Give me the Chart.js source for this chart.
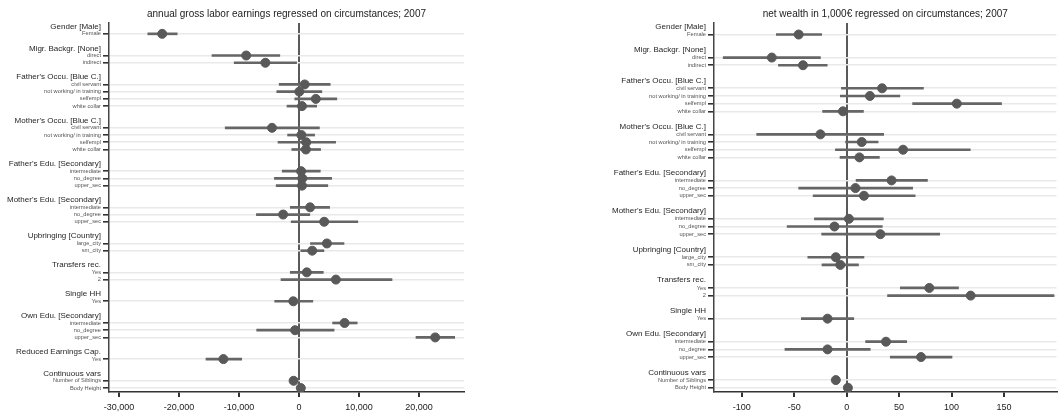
<!DOCTYPE html>
<html>
<head>
<meta charset="utf-8">
<script src="https://cdn.jsdelivr.net/npm/chart.js@4/dist/chart.umd.min.js"></script>
<style>
  html, body { margin: 0; padding: 0; background: #fff; overflow: hidden; }
  #wrap { position: relative; width: 1062px; height: 415px; }
  canvas { position: absolute; top: 0; }
</style>
</head>
<body>
<div id="wrap">
  <canvas id="earnChart" width="530" height="415" style="left:0"></canvas>
  <canvas id="wealthChart" width="532" height="415" style="left:530px"></canvas>
</div>
<script>
"use strict";

// ---- data ----
var occItems = ['civil servant', 'not working/ in training', 'selfempl', 'white collar'];
var eduItems = ['intermediate', 'no_degree', 'upper_sec'];

var earnGroups = ['Gender [Male]', 'Migr. Backgr. [None]', "Father's Occu. [Blue C.]", "Mother's Occu. [Blue C.]",
	"Father's Edu. [Secondary]", "Mother's Edu. [Secondary]", 'Upbringing [Country]', 'Transfers rec.',
	'Single HH', 'Own Edu. [Secondary]', 'Reduced Earnings Cap.', 'Continuous vars'];
var earnItems = [['Female'], ['direct', 'indirect'], occItems, occItems, eduItems, eduItems,
	['large_city', 'sm_city'], ['Yes', '2'], ['Yes'], eduItems, ['Yes'], ['Number of Siblings', 'Body Height']];
var earnCoef = [-22800, -8800, -5600, 950, 50, 2800, 500, -4500, 400, 1200, 1150, 350, 550, 500,
	1850, -2650, 4200, 4650, 2200, 1300, 6150, -950, 7600, -650, 22700, -12600, -900, 300];
var earnLo = [-25200, -14500, -10800, -3300, -3700, -700, -2000, -12300, -1900, -3500, -1200, -2800, -4100, -3800,
	-1450, -7100, -1300, 1900, 300, -1450, -3000, -4050, 5600, -7050, 19500, -15500, -1300, 100];
var earnHi = [-20300, -3200, -400, 5200, 3800, 6300, 2950, 3400, 2600, 6100, 3600, 3550, 5450, 4800,
	5100, 1800, 9800, 7500, 4150, 4050, 15500, 2300, 9700, 5850, 25950, -9550, -500, 500];
var earnTicks = [-30000, -20000, -10000, 0, 10000, 20000];

var wealthGroups = ['Gender [Male]', 'Migr. Backgr. [None]', "Father's Occu. [Blue C.]", "Mother's Occu. [Blue C.]",
	"Father's Edu. [Secondary]", "Mother's Edu. [Secondary]", 'Upbringing [Country]', 'Transfers rec.',
	'Single HH', 'Own Edu. [Secondary]', 'Continuous vars'];
var wealthItems = [['Female'], ['direct', 'indirect'], occItems, occItems, eduItems, eduItems,
	['large_city', 'sm_city'], ['Yes', '2'], ['Yes'], eduItems, ['Number of Siblings', 'Body Height']];
var wealthCoef = [-45.7, -71.3, -41.6, 33.8, 22.2, 105, -3.5, -25, 14.4, 53.8, 12.2, 42.8, 8.4, 16.5,
	2.2, -11.6, 32.2, -10.3, -6, 78.8, 118.2, -18.2, 37.5, -18.2, 70.9, -10.3, 1.2];
var wealthLo = [-67, -117.6, -65, -5, -6, 62.9, -22.9, -85.7, -1, -10.7, -6.3, 9, -45.7, -31.9,
	-30.7, -56.7, -23.8, -37, -23.5, 51.2, 39, -43.2, 18.1, -58.8, 41.6, -13, 0.4];
var wealthHi = [-23.8, -25, -18.5, 73.2, 50.7, 147.6, 16, 35.3, 30, 117.8, 31.2, 77, 62.9, 65.3,
	35, 34, 88.7, 16.5, 11.3, 106.6, 197.6, 6.8, 57.2, 22.5, 100.4, -7.5, 2];
var wealthTicks = [-100, -50, 0, 50, 100, 150];

// ---- helpers ----
var fontFamily = "'Liberation Sans', Arial, sans-serif";

// header on one slot, items below it, one empty slot between groups
function BuildRows(groups, items) {
	var rows = [];
	var slot = -1;
	groups.forEach(function (g, i) {
		rows.push({ slot: slot, text: g, header: true });
		items[i].forEach(function (it, j) {
			rows.push({ slot: slot + 1 + j, text: it, header: false });
		});
		slot += items[i].length + 2;
	});
	return rows;
}

// title centred over the plot area, not the whole canvas
var plotTitle = {
	id: 'plotTitle',
	afterDraw: function (chart, args, opts) {
		var ctx = chart.ctx;
		var area = chart.chartArea;
		ctx.save();
		ctx.font = '10px ' + fontFamily;
		ctx.fillStyle = '#222';
		ctx.textAlign = 'center';
		ctx.textBaseline = 'middle';
		ctx.fillText(opts.text, (area.left + area.right) / 2, 14);
		ctx.restore();
	}
};

function MakeChart(canvasId, title, groups, items, coef, lo, hi, xTicks, xMin, xMax, axisWidth, padRight) {
	var rows = BuildRows(groups, items);
	var bySlot = {};
	rows.forEach(function (r) { bySlot[r.slot] = r; });
	var itemRows = rows.filter(function (r) { return !r.header; });
	var lastSlot = itemRows[itemRows.length - 1].slot;

	var points = itemRows.map(function (r, i) { return { x: coef[i], y: r.slot }; });
	var ranges = itemRows.map(function (r, i) { return { x: [lo[i], hi[i]], y: r.slot }; });

	function isHeader(v) { return bySlot[v] && bySlot[v].header; }

	return new Chart(document.getElementById(canvasId), {
		type: 'scatter',
		data: {
			datasets: [{
				data: points,
				backgroundColor: '#595959',
				borderColor: '#595959',
				pointRadius: 4.5,
				pointHoverRadius: 4.5
			}, {
				type: 'bar',
				indexAxis: 'y',
				data: ranges,
				backgroundColor: '#666666',
				barThickness: 2
			}]
		},
		plugins: [plotTitle],
		options: {
			responsive: false,
			animation: false,
			events: [],
			layout: { padding: { left: 0, right: padRight, top: 23, bottom: 0 } },
			plugins: {
				legend: { display: false },
				tooltip: { enabled: false },
				title: { display: false },
				plotTitle: { text: title }
			},
			scales: {
				x: {
					type: 'linear',
					min: xMin,
					max: xMax,
					afterBuildTicks: function (scale) {
						scale.ticks = xTicks.map(function (v) { return { value: v }; });
					},
					afterFit: function (scale) { scale.height = 23; },
					border: { display: true, color: '#333', width: 1.5 },
					grid: {
						drawOnChartArea: true,
						color: function (ctx) { return ctx.tick && ctx.tick.value === 0 ? '#5a5a5a' : 'rgba(0,0,0,0)'; },
						lineWidth: 2,
						tickColor: '#333',
						tickLength: 5
					},
					ticks: {
						color: '#222',
						padding: 5,
						maxRotation: 0,
						autoSkip: false,
						font: { family: fontFamily, size: 9 }
					}
				},
				y: {
					type: 'linear',
					reverse: true,
					min: -1.5,
					max: lastSlot + 0.55,
					offset: false,
					afterBuildTicks: function (scale) {
						scale.ticks = rows.map(function (r) { return { value: r.slot }; });
					},
					afterFit: function (scale) { scale.width = axisWidth; },
					border: { display: true, color: '#444', width: 1.5 },
					grid: {
						offset: false,
						color: function (ctx) { return isHeader(ctx.tick && ctx.tick.value) ? 'rgba(0,0,0,0)' : '#e9e9e9'; },
						lineWidth: 1.6,
						tickColor: function (ctx) { return isHeader(ctx.tick && ctx.tick.value) ? 'rgba(0,0,0,0)' : '#333'; },
						tickLength: 6
					},
					ticks: {
						autoSkip: false,
						padding: 2,
						callback: function (v) { return bySlot[v] ? bySlot[v].text : ''; },
						color: function (ctx) { return isHeader(ctx.tick && ctx.tick.value) ? '#262626' : '#555'; },
						font: function (ctx) {
							return isHeader(ctx.tick && ctx.tick.value)
								? { family: fontFamily, size: 8 }
								: { family: fontFamily, size: 5.7 };
						}
					}
				}
			}
		}
	});
}

MakeChart('earnChart', 'annual gross labor earnings regressed on circumstances; 2007',
	earnGroups, earnItems, earnCoef, earnLo, earnHi, earnTicks, -31667, 27500, 109, 66);

MakeChart('wealthChart', 'net wealth in 1,000\u20ac regressed on circumstances; 2007',
	wealthGroups, wealthItems, wealthCoef, wealthLo, wealthHi, wealthTicks, -126.4, 200, 184, 0);
</script>
</body>
</html>
